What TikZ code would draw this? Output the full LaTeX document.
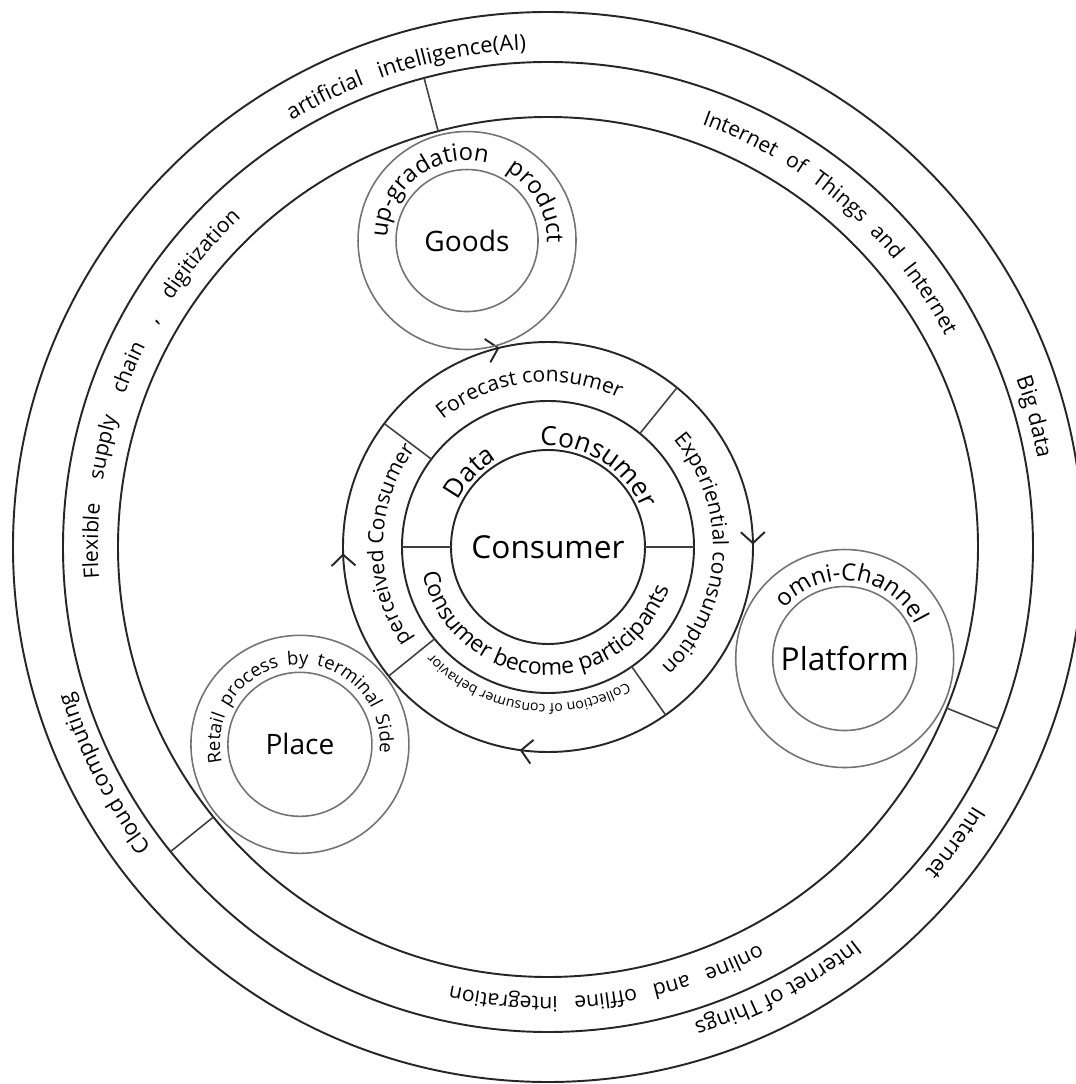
\documentclass[tikz,border=0pt]{standalone}
\usepackage{fontspec}
\setmainfont{Open Sans}
\usetikzlibrary{decorations.text,decorations.markings,arrows.meta}

% font sizes
\newcommand{\ringfont}{\fontsize{12.5}{15}\selectfont}
\newcommand{\bandfont}{\fontsize{12}{14}\selectfont}
\newcommand{\corefont}{\fontsize{12}{14}\selectfont}
\newcommand{\tinyfont}{\fontsize{8}{10}\selectfont}
\newcommand{\midfont}{\fontsize{15}{18}\selectfont}
\newcommand{\partfont}{\fontsize{13}{16}\selectfont}
\newcommand{\satfont}{\fontsize{13.5}{16}\selectfont}
\newcommand{\placefont}{\fontsize{10.5}{13}\selectfont}

% text on a clockwise arc: [align]{centre angle}{half span}{radius}{text}
\newcommand{\cwtext}[5][center]{%
  \path[decorate, decoration={text along path, text align={#1}, text={#5}}]
    (#2+#3:#4) arc[start angle=#2+#3, end angle=#2-#3, radius=#4];}
% same, counter-clockwise
\newcommand{\ccwtext}[5][center]{%
  \path[decorate, decoration={text along path, text align={#1}, text={#5}}]
    (#2-#3:#4) arc[start angle=#2-#3, end angle=#2+#3, radius=#4];}

\tikzset{
  ring/.style={line width=1.1pt, black!85},
  satring/.style={line width=0.9pt, black!55},
  divider/.style={line width=0.9pt, black!75},
  flow/.style={postaction={decorate}, decoration={markings,
      mark=at position 0.248 with {\arrow{Straight Barb[length=2.2mm,width=4.8mm]}},
      mark=at position 0.522 with {\arrow{Straight Barb[length=2.2mm,width=4.8mm]}},
      mark=at position 0.745 with {\arrow{Straight Barb[length=2.2mm,width=4.8mm]}},
      mark=at position 0.962 with {\arrow{Straight Barb[length=2.2mm,width=4.8mm]}}}},
}

\begin{document}
\begin{tikzpicture}
  \useasboundingbox (-10.96,-10.74) rectangle (10.54,10.94);

  % outer bands
  \draw[ring] (0,0) circle (10.7);
  \draw[ring] (0,0) circle (9.7);
  \draw[ring] (0,0) circle (8.6);
  \foreach \a in {104.8,-22,218.9}
    \draw[divider] (\a:8.6) -- (\a:9.7);

  % technology band
  \cwtext[fit to path stretching spaces]{106.75}{14.25}{9.95}{|\ringfont|artificial intelligence(AI)}
  \cwtext{15}{25}{9.95}{|\ringfont|Big data}
  \cwtext{-36}{12}{9.95}{|\ringfont|Internet}
  \cwtext{-62.5}{15}{9.95}{|\ringfont|Internet of Things}
  \cwtext{207}{15}{9.95}{|\ringfont|Cloud computing}

  % channel band
  \cwtext[fit to path stretching spaces]{158.5}{25.5}{9.0}{|\bandfont|Flexible supply chain , digitization}
  \cwtext[fit to path stretching spaces]{49}{21}{9.0}{|\bandfont|Internet of Things and Internet}
  \cwtext[fit to path stretching spaces]{-82.25}{20.25}{9.0}{|\bandfont|online and offline integration}

  % consumer core
  \draw[ring] (0,0) circle (1.94);
  \draw[ring] (0,0) circle (2.92);
  \draw[ring, flow] (90:4.1) arc[start angle=90, end angle=-270, radius=4.1];
  \foreach \a in {143,51,-55,219}
    \draw[divider] (\a:2.92) -- (\a:4.1);
  \foreach \a in {0,180}
    \draw[divider] (\a:1.94) -- (\a:2.92);
  \node[font=\fontsize{18}{22}\selectfont] (consumer) at (0,0) {Consumer};

  \cwtext{97}{45}{3.3}{|\corefont|Forecast consumer}
  \cwtext{-3}{55}{3.3}{|\corefont|Experiential consumption}
  \cwtext{179}{45}{3.3}{|\corefont|perceived Consumer}
  \cwtext{-98.5}{50}{3.14}{|\tinyfont|Collection of consumer behavior}
  \cwtext[fit to path stretching spaces]{87.5}{65.5}{2.02}{|\midfont|Data Consumer}
  \ccwtext{266.5}{85}{2.56}{|\partfont|Consumer become participants}

  % satellites
  \node[font=\fontsize{16}{19}\selectfont] (goods) at (104.8:6.34) {Goods};
  \draw[satring] (goods) circle (2.18) (goods) circle (1.42);
  \begin{scope}[shift={(goods)}]
    \cwtext[fit to path stretching spaces]{88}{90}{1.6}{|\satfont|up-gradation product}
  \end{scope}

  \node[font=\fontsize{18}{22}\selectfont] (platform) at (-20.6:6.34) {Platform};
  \draw[satring] (platform) circle (2.18) (platform) circle (1.44);
  \begin{scope}[shift={(platform)}]
    \cwtext{83}{80}{1.56}{|\satfont|omni-Channel}
  \end{scope}

  \node[font=\fontsize{16}{19}\selectfont] (place) at (218.5:6.34) {Place};
  \draw[satring] (place) circle (2.18) (place) circle (1.44);
  \begin{scope}[shift={(place)}]
    \cwtext[fit to path stretching spaces]{93.5}{99.5}{1.6}{|\placefont|Retail process by terminal Side}
  \end{scope}
\end{tikzpicture}
\end{document}
